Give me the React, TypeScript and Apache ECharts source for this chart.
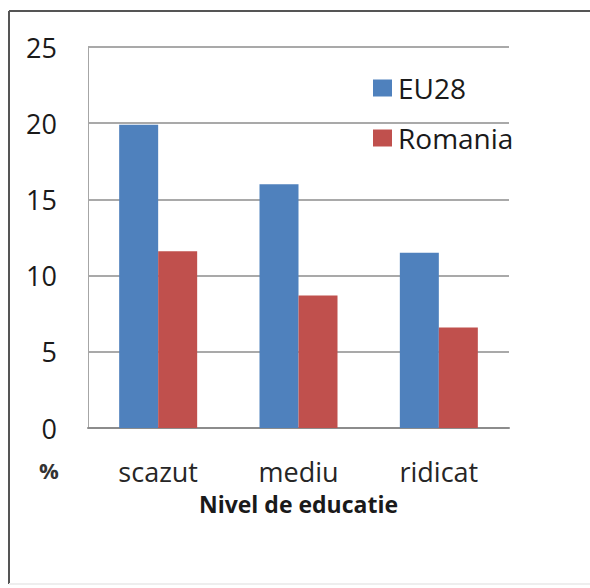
import React, { useEffect, useRef } from "react";
import * as echarts from "echarts";

const categories = ["scazut", "mediu", "ridicat"];
const eu28 = [19.9, 16.0, 11.5];
const romania = [11.6, 8.7, 6.6];
const yTicks = { min: 0, max: 25, interval: 5 };

export default function App() {
  const ref = useRef<HTMLDivElement>(null);
  useEffect(() => {
    if (!ref.current) return;
    const chart = echarts.init(ref.current, null, { renderer: "svg" });
    const font = "'Open Sans', 'DejaVu Sans', sans-serif";
    chart.setOption({
      animation: false,
      backgroundColor: "#ffffff",
      textStyle: { fontFamily: font },
      grid: { left: 88, right: 81, top: 47, bottom: 160 },
      legend: {
        orient: "vertical",
        left: 368,
        top: 69,
        itemWidth: 19,
        itemHeight: 17,
        itemGap: 22,
        icon: "rect",
        textStyle: { fontSize: 28, lineHeight: 28, color: "#1a1a1a", fontFamily: font, padding: [0, 0, 0, 1] },
        data: ["EU28", "Romania"],
      },
      xAxis: {
        type: "category",
        data: categories,
        axisLine: { show: true, lineStyle: { color: "#8c8c8c", width: 2 } },
        axisTick: { show: false },
        axisLabel: { fontSize: 27, color: "#262626", margin: 30, fontFamily: font },
        name: "Nivel de educatie",
        nameLocation: "middle",
        nameGap: 64,
        nameTextStyle: { fontSize: 23, fontWeight: "bold", color: "#1a1a1a", fontFamily: font },
      },
      yAxis: {
        type: "value",
        min: yTicks.min,
        max: yTicks.max,
        interval: yTicks.interval,
        axisLine: { show: true, lineStyle: { color: "#a6a6a6", width: 1 } },
        axisTick: { show: false },
        axisLabel: { fontSize: 27, color: "#1a1a1a", margin: 31, fontFamily: font },
        splitLine: { show: true, lineStyle: { color: "#8c8c8c", width: 1.5 } },
      },
      series: [
        {
          name: "EU28",
          type: "bar",
          data: eu28,
          barWidth: 39,
          barGap: "0%",
          itemStyle: { color: "#4F81BD" },
        },
        {
          name: "Romania",
          type: "bar",
          data: romania,
          barWidth: 39,
          barGap: "0%",
          itemStyle: { color: "#C0504D" },
        },
      ],
      graphic: [
        {
          type: "text",
          left: 39,
          top: 459,
          style: { text: "%", fontSize: 22, fontWeight: "bold", fill: "#333", fontFamily: font },
        },
        {
          type: "line",
          shape: { x1: 9, y1: 11, x2: 590, y2: 11 },
          style: { stroke: "#555555", lineWidth: 2 },
        },
        {
          type: "line",
          shape: { x1: 9, y1: 11, x2: 9, y2: 584 },
          style: { stroke: "#555555", lineWidth: 2 },
        },
        {
          type: "line",
          shape: { x1: 9, y1: 584, x2: 590, y2: 584 },
          style: { stroke: "#eeeeee", lineWidth: 2 },
        },
      ],
    });
    return () => chart.dispose();
  }, []);
  return (
    <div
      ref={ref}
      style={{ position: "absolute", left: 0, top: 0, width: 590, height: 588 }}
    />
  );
}
